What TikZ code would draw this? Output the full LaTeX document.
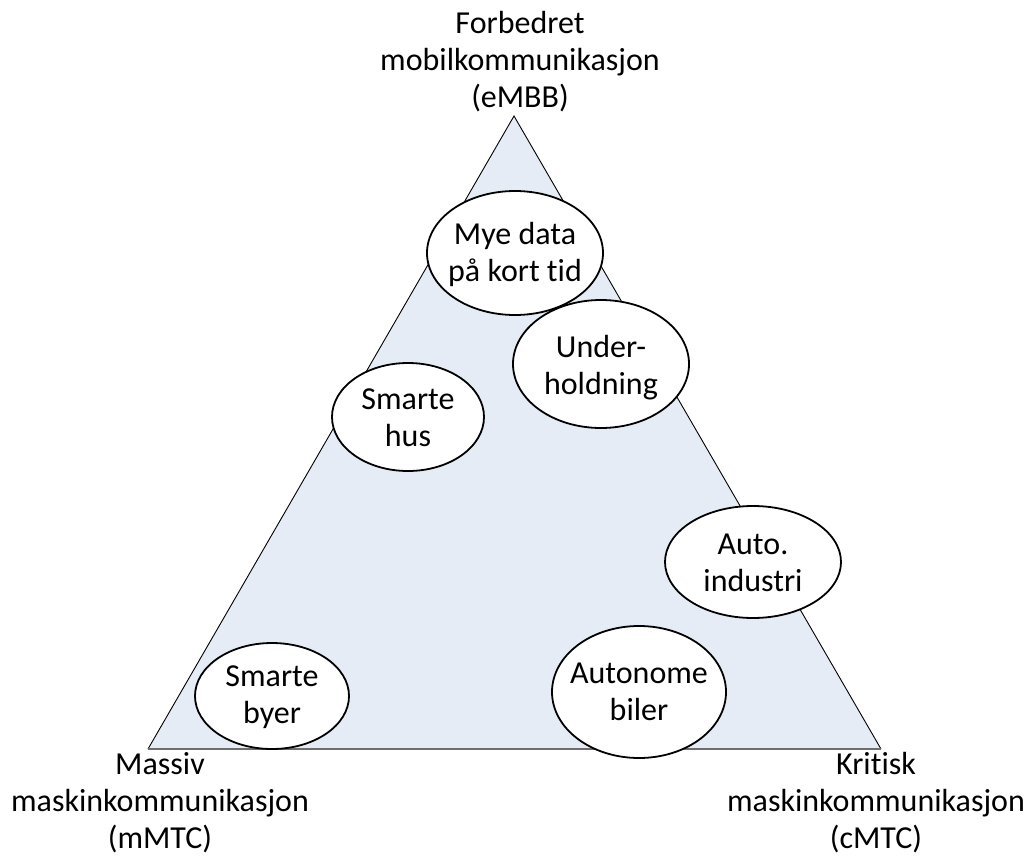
\documentclass[tikz,border=0pt]{standalone}
\usepackage{fontspec}
\setmainfont{Carlito}[Ligatures=NoCommon]
\definecolor{trifill}{RGB}{230,236,246}
\definecolor{basegray}{RGB}{110,110,110}
\tikzset{
  ell/.style={draw=black, line width=1.8pt, fill=white},
  txt/.style={align=center, inner sep=0pt, font=\fontsize{32}{37}\selectfont},
  lbl/.style={align=center, inner sep=0pt, font=\fontsize{32}{37}\selectfont},
}
\begin{document}
\begin{tikzpicture}[x=1pt,y=-1pt]
\useasboundingbox (0,0) rectangle (1025,856);
% triangle
\coordinate (apex) at (514,116);
\coordinate (bl) at (148,749);
\coordinate (br) at (881,749);
\fill[trifill] (apex) -- (bl) -- (br) -- cycle;
\draw[black, line width=0.9pt] (bl) -- (apex) -- (br);
\draw[basegray, line width=1.6pt] (bl) -- (br);
% ellipses
\draw[ell] (515,253) ellipse [x radius=88, y radius=62];
\node[txt] (mye) at (515,254) {Mye data\\på kort tid};
\draw[ell] (601,364) ellipse [x radius=88, y radius=64];
\node[txt] (under) at (601,368) {Under-\\holdning};
\draw[ell] (408,417) ellipse [x radius=76, y radius=54];
\node[txt] (hus) at (408,418) {Smarte\\hus};
\draw[ell] (753,562) ellipse [x radius=88, y radius=56];
\node[txt] (auto) at (753,563) {Auto.\\industri};
\draw[ell] (272,696) ellipse [x radius=77, y radius=53];
\node[txt] (byer) at (272,697) {Smarte\\byer};
\draw[ell] (639,692) ellipse [x radius=87, y radius=66];
\node[txt] (biler) at (639,692) {Autonome\\biler};
% corner labels
\node[lbl] (embb) at (520,62) {Forbedret\\mobilkommunikasjon\\(eMBB)};
\node[lbl] (mmtc) at (160,803) {Massiv\\maskinkommunikasjon\\(mMTC)};
\node[lbl] (cmtc) at (876,803) {Kritisk\\maskinkommunikasjon\\(cMTC)};
\end{tikzpicture}
\end{document}
